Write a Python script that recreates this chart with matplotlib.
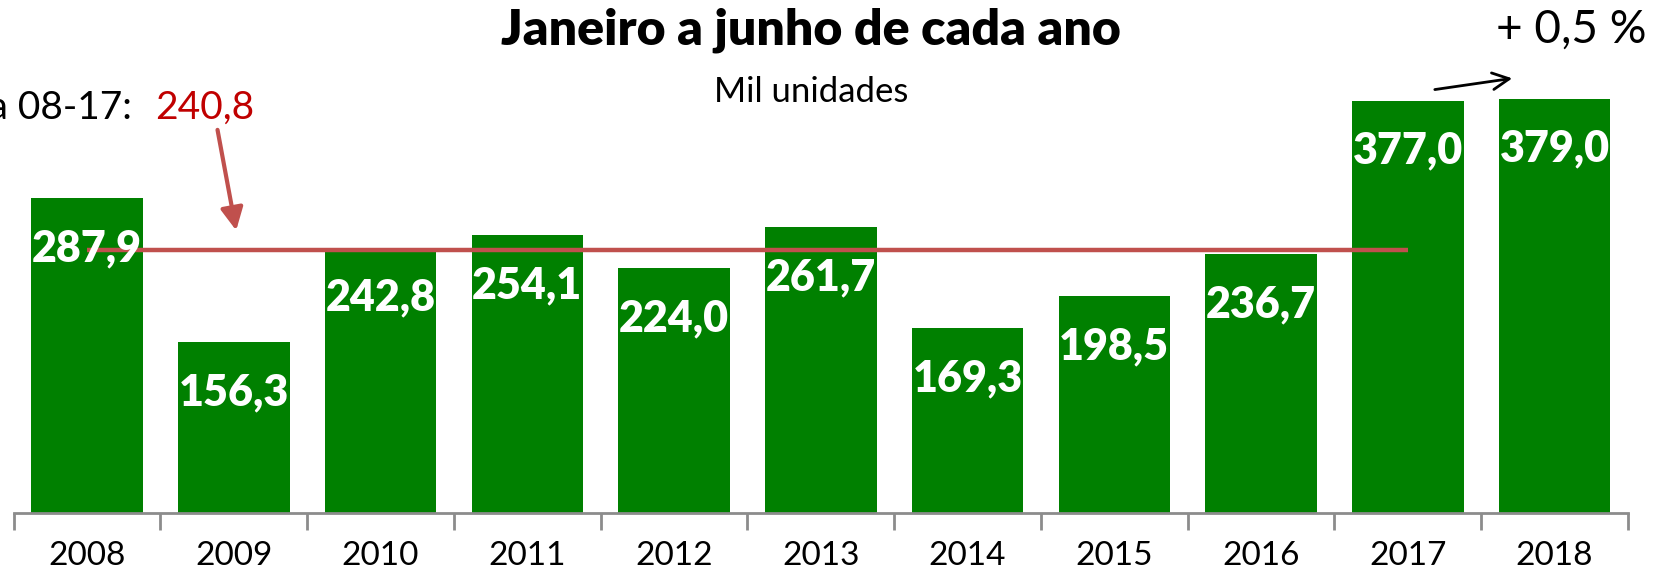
import numpy as np
import matplotlib.pyplot as plt

# dados: vendas de janeiro a junho (mil unidades)
anos = ["2008", "2009", "2010", "2011", "2012", "2013", "2014", "2015", "2016", "2017", "2018"]
valores = [287.9, 156.3, 242.8, 254.1, 224.0, 261.7, 169.3, 198.5, 236.7, 377.0, 379.0]

media = np.mean(valores[:10])
variacao = (valores[10] / valores[9] - 1) * 100


def fmt(v):
    return f"{v:.1f}".replace(".", ",")


plt.rcParams["font.family"] = ["Lato", "DejaVu Sans"]

fig = plt.figure(figsize=(16.65, 5.76), dpi=100)
ax = fig.add_axes([13.6 / 1665, 63 / 576, (1628 - 13.6) / 1665, 513 / 576])

x = np.arange(len(anos))
bars = ax.bar(x, valores, width=0.76, color="#008000")

for xi, v in zip(x, valores):
    ax.annotate(fmt(v), (xi, v), xytext=(0, -50), textcoords="offset pixels",
                ha="center", va="center", color="white", fontsize=31,
                fontweight="heavy")

# linha da media 2008-2017
ax.plot([0, 9], [media, media], color="#C0504D", linewidth=3.2, solid_capstyle="butt")

ax.set_xlim(-0.5, len(anos) - 0.5)
ax.set_ylim(0, 469.3)
ax.set_xticks(x)
ax.set_xticklabels(anos, fontsize=24)
ax.set_xticks(np.arange(-0.5, len(anos)), minor=True)
ax.tick_params(axis="x", which="major", length=0, pad=20)
ax.tick_params(axis="x", which="minor", length=12, width=2, color="#8c8c8c")
ax.set_yticks([])
for s in ["left", "right", "top"]:
    ax.spines[s].set_visible(False)
ax.spines["bottom"].set_color("#8c8c8c")
ax.spines["bottom"].set_linewidth(2)

fig.text(0.487, 1 - 30 / 576, "Janeiro a junho de cada ano", ha="center", va="center",
         fontsize=36, fontweight="heavy")
fig.text(0.487, 1 - 92 / 576, "Mil unidades", ha="center", va="center", fontsize=25)

ax.text(0.307, 370.5, "Média 08-17:", ha="right", va="center", fontsize=28, clip_on=False)
ax.text(0.463, 370.5, fmt(media), ha="left", va="center", fontsize=28, color="#C00000")
ax.annotate("", xy=(1.02, 256), xytext=(0.886, 353),
            arrowprops=dict(arrowstyle="-|>", color="#C0504D", lw=3, mutation_scale=34))

ax.text(10.11, 442, f"+ {fmt(variacao)} %", ha="center", va="center", fontsize=33,
        clip_on=False)
ax.annotate("", xy=(9.73, 398), xytext=(9.165, 387),
            arrowprops=dict(arrowstyle="->", color="black", lw=2, mutation_scale=30))

fig.savefig("out.png", dpi=100)
